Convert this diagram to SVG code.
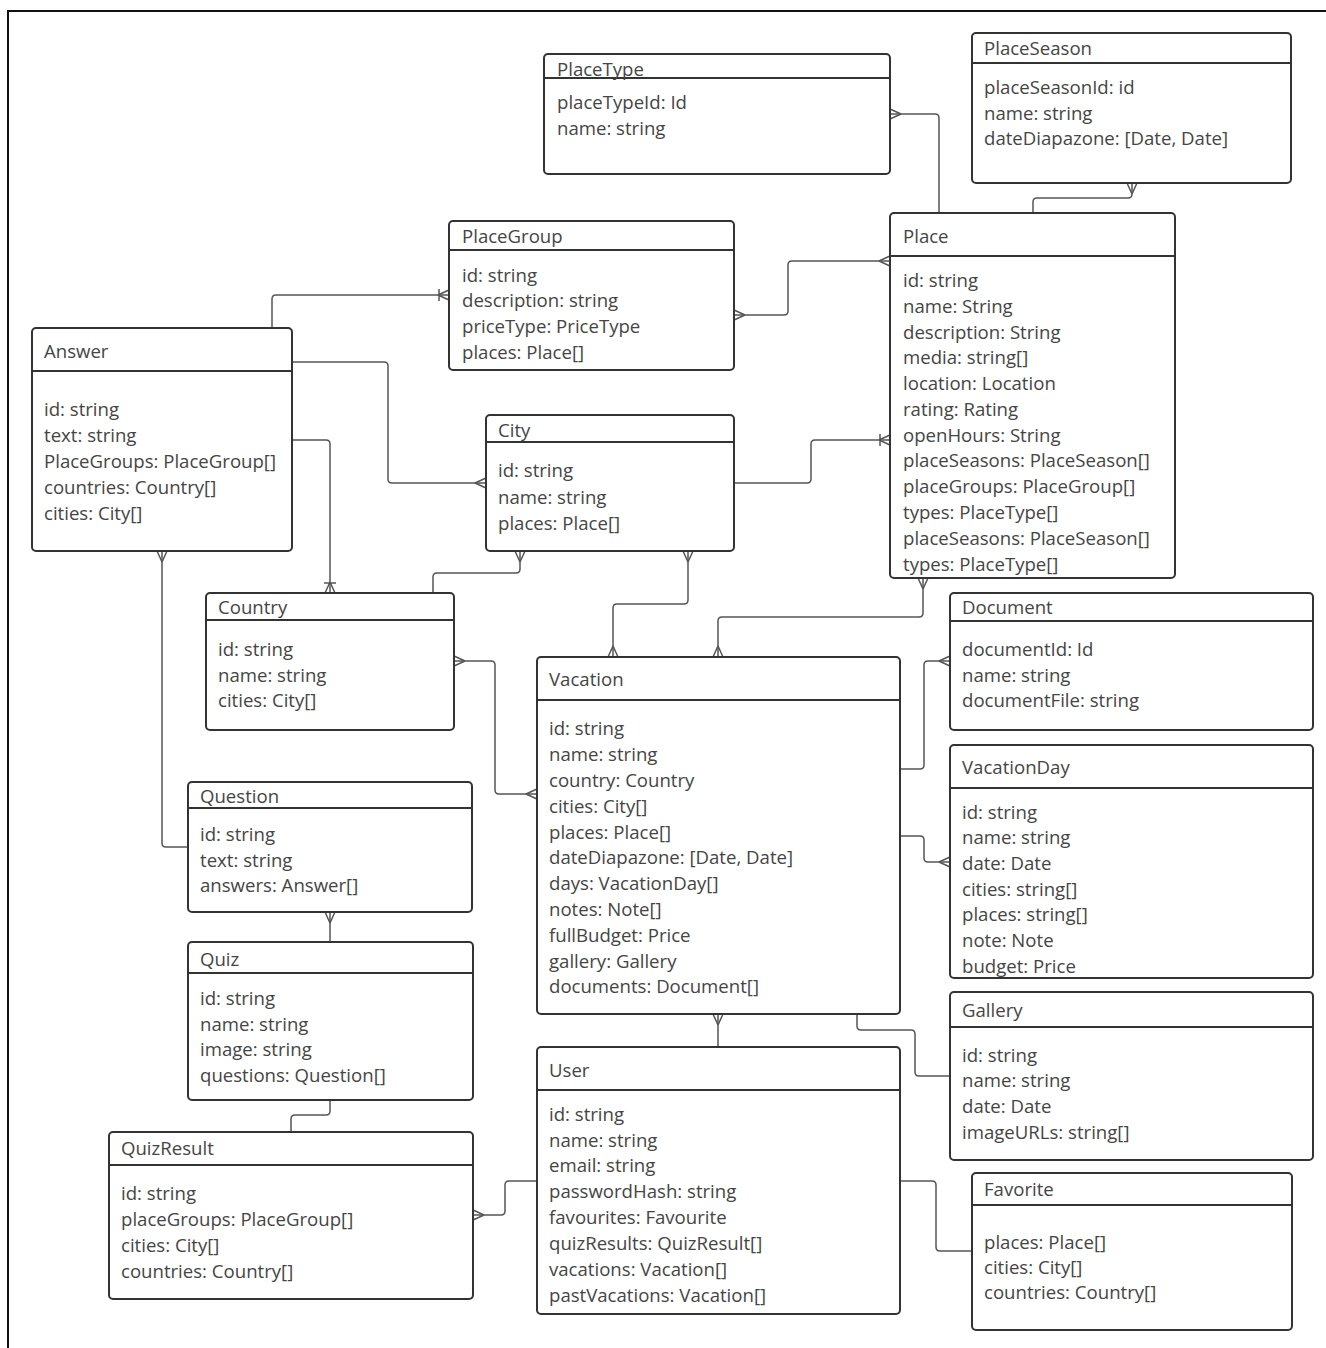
<svg xmlns="http://www.w3.org/2000/svg" width="1326" height="1348" viewBox="0 0 1326 1348">
<style>
.box{fill:#fff;stroke:#333;stroke-width:2}
.hd{stroke:#333;stroke-width:2}
text{font-family:"Open Sans","Noto Sans","Liberation Sans",sans-serif;font-size:18.6px;fill:#454545}
.c{fill:none;stroke:#555;stroke-width:1.5}
.mk{fill:none;stroke:#555;stroke-width:1.5}
</style>
<defs>
<marker id="crow" markerUnits="userSpaceOnUse" markerWidth="14" markerHeight="14" refX="0" refY="0" orient="auto-start-reverse" overflow="visible">
<path class="mk" d="M-11,0 L0,-5 M-11,0 L0,5"/>
</marker>
<marker id="onemany" markerUnits="userSpaceOnUse" markerWidth="14" markerHeight="14" refX="0" refY="0" orient="auto-start-reverse" overflow="visible">
<path class="mk" d="M-11,0 L0,-5 M-11,0 L0,5 M-10,-6 L-10,6"/>
</marker>
</defs>
<rect width="1326" height="1348" fill="#fff"/>
<path d="M8,1348 V11 H1326" fill="none" stroke="#111" stroke-width="2"/>

<g id="connectors">
<path class="c" d="M272,328 V299 Q272,295 276,295 H449" marker-end="url(#onemany)"/>
<path class="c" d="M734,315 H784 Q788,315 788,311 V265 Q788,261 792,261 H890" marker-start="url(#crow)" marker-end="url(#crow)"/>
<path class="c" d="M890,114 H935 Q939,114 939,118 V213" marker-start="url(#crow)"/>
<path class="c" d="M1132,183 V194 Q1132,198 1128,198 H1037 Q1033,198 1033,202 V213" marker-start="url(#crow)"/>
<path class="c" d="M292,362 H384 Q388,362 388,366 V479 Q388,483 392,483 H486" marker-end="url(#crow)"/>
<path class="c" d="M292,440 H326 Q330,440 330,444 V593" marker-end="url(#onemany)"/>
<path class="c" d="M162,551 V843 Q162,847 166,847 H188" marker-start="url(#crow)"/>
<path class="c" d="M433,593 V577 Q433,573 437,573 H516 Q520,573 520,569 V551" marker-end="url(#crow)"/>
<path class="c" d="M734,483 H807 Q811,483 811,479 V444 Q811,440 815,440 H890" marker-end="url(#onemany)"/>
<path class="c" d="M688,551 V600 Q688,604 684,604 H617 Q613,604 613,608 V657" marker-start="url(#crow)" marker-end="url(#crow)"/>
<path class="c" d="M923,578 V613 Q923,617 919,617 H722 Q718,617 718,621 V657" marker-start="url(#crow)" marker-end="url(#crow)"/>
<path class="c" d="M454,661 H491 Q495,661 495,665 V790 Q495,794 499,794 H537" marker-start="url(#crow)" marker-end="url(#crow)"/>
<path class="c" d="M900,769 H920 Q924,769 924,765 V665 Q924,661 928,661 H950" marker-end="url(#crow)"/>
<path class="c" d="M900,836 H920 Q924,836 924,840 V858 Q924,862 928,862 H950" marker-end="url(#crow)"/>
<path class="c" d="M857,1014 V1026 Q857,1030 861,1030 H911 Q915,1030 915,1034 V1072 Q915,1076 919,1076 H950"/>
<path class="c" d="M718,1014 V1047" marker-start="url(#crow)"/>
<path class="c" d="M900,1181 H932 Q936,1181 936,1185 V1247 Q936,1251 940,1251 H972"/>
<path class="c" d="M537,1181 H509 Q505,1181 505,1185 V1211 Q505,1215 501,1215 H473" marker-end="url(#crow)"/>
<path class="c" d="M330,1100 V1111 Q330,1115 326,1115 H295 Q291,1115 291,1119 V1132"/>
<path class="c" d="M330,912 V942" marker-start="url(#crow)"/>
</g>

<g id="PlaceType">
<rect class="box" x="544" y="54" width="346" height="120" rx="4"/>
<line class="hd" x1="544" y1="78" x2="890" y2="78"/>
<text x="557" y="76">PlaceType</text>
<text x="557" y="109">placeTypeId: Id</text>
<text x="557" y="135">name: string</text>
</g>

<g id="PlaceSeason">
<rect class="box" x="972" y="33" width="319" height="150" rx="4"/>
<line class="hd" x1="972" y1="63" x2="1291" y2="63"/>
<text x="984" y="55">PlaceSeason</text>
<text x="984" y="94">placeSeasonId: id</text>
<text x="984" y="120">name: string</text>
<text x="984" y="145">dateDiapazone: [Date, Date]</text>
</g>

<g id="Place">
<rect class="box" x="890" y="213" width="285" height="365" rx="4"/>
<line class="hd" x1="890" y1="256" x2="1175" y2="256"/>
<text x="903" y="243">Place</text>
<text x="903" y="287">id: string</text>
<text x="903" y="313">name: String</text>
<text x="903" y="339">description: String</text>
<text x="903" y="364">media: string[]</text>
<text x="903" y="390">location: Location</text>
<text x="903" y="416">rating: Rating</text>
<text x="903" y="442">openHours: String</text>
<text x="903" y="467">placeSeasons: PlaceSeason[]</text>
<text x="903" y="493">placeGroups: PlaceGroup[]</text>
<text x="903" y="519">types: PlaceType[]</text>
<text x="903" y="545">placeSeasons: PlaceSeason[]</text>
<text x="903" y="571">types: PlaceType[]</text>
</g>

<g id="PlaceGroup">
<rect class="box" x="449" y="221" width="285" height="149" rx="4"/>
<line class="hd" x1="449" y1="250" x2="734" y2="250"/>
<text x="462" y="243">PlaceGroup</text>
<text x="462" y="282">id: string</text>
<text x="462" y="307">description: string</text>
<text x="462" y="333">priceType: PriceType</text>
<text x="462" y="359">places: Place[]</text>
</g>

<g id="Answer">
<rect class="box" x="32" y="328" width="260" height="223" rx="4"/>
<line class="hd" x1="32" y1="371" x2="292" y2="371"/>
<text x="44" y="358">Answer</text>
<text x="44" y="416">id: string</text>
<text x="44" y="442">text: string</text>
<text x="44" y="468">PlaceGroups: PlaceGroup[]</text>
<text x="44" y="494">countries: Country[]</text>
<text x="44" y="520">cities: City[]</text>
</g>

<g id="City">
<rect class="box" x="486" y="415" width="248" height="136" rx="4"/>
<line class="hd" x1="486" y1="442" x2="734" y2="442"/>
<text x="498" y="437">City</text>
<text x="498" y="477">id: string</text>
<text x="498" y="504">name: string</text>
<text x="498" y="530">places: Place[]</text>
</g>

<g id="Country">
<rect class="box" x="206" y="593" width="248" height="137" rx="4"/>
<line class="hd" x1="206" y1="620" x2="454" y2="620"/>
<text x="218" y="614">Country</text>
<text x="218" y="656">id: string</text>
<text x="218" y="682">name: string</text>
<text x="218" y="707">cities: City[]</text>
</g>

<g id="Vacation">
<rect class="box" x="537" y="657" width="363" height="357" rx="4"/>
<line class="hd" x1="537" y1="700" x2="900" y2="700"/>
<text x="549" y="686">Vacation</text>
<text x="549" y="735">id: string</text>
<text x="549" y="761">name: string</text>
<text x="549" y="787">country: Country</text>
<text x="549" y="813">cities: City[]</text>
<text x="549" y="839">places: Place[]</text>
<text x="549" y="864">dateDiapazone: [Date, Date]</text>
<text x="549" y="890">days: VacationDay[]</text>
<text x="549" y="916">notes: Note[]</text>
<text x="549" y="942">fullBudget: Price</text>
<text x="549" y="968">gallery: Gallery</text>
<text x="549" y="993">documents: Document[]</text>
</g>

<g id="Document">
<rect class="box" x="950" y="593" width="363" height="137" rx="4"/>
<line class="hd" x1="950" y1="621" x2="1313" y2="621"/>
<text x="962" y="614">Document</text>
<text x="962" y="656">documentId: Id</text>
<text x="962" y="682">name: string</text>
<text x="962" y="707">documentFile: string</text>
</g>

<g id="VacationDay">
<rect class="box" x="950" y="745" width="363" height="233" rx="4"/>
<line class="hd" x1="950" y1="788" x2="1313" y2="788"/>
<text x="962" y="774">VacationDay</text>
<text x="962" y="819">id: string</text>
<text x="962" y="844">name: string</text>
<text x="962" y="870">date: Date</text>
<text x="962" y="896">cities: string[]</text>
<text x="962" y="921">places: string[]</text>
<text x="962" y="947">note: Note</text>
<text x="962" y="973">budget: Price</text>
</g>

<g id="Gallery">
<rect class="box" x="950" y="992" width="363" height="168" rx="4"/>
<line class="hd" x1="950" y1="1027" x2="1313" y2="1027"/>
<text x="962" y="1017">Gallery</text>
<text x="962" y="1062">id: string</text>
<text x="962" y="1087">name: string</text>
<text x="962" y="1113">date: Date</text>
<text x="962" y="1139">imageURLs: string[]</text>
</g>

<g id="Favorite">
<rect class="box" x="972" y="1173" width="320" height="157" rx="4"/>
<line class="hd" x1="972" y1="1205" x2="1292" y2="1205"/>
<text x="984" y="1196">Favorite</text>
<text x="984" y="1249">places: Place[]</text>
<text x="984" y="1274">cities: City[]</text>
<text x="984" y="1299">countries: Country[]</text>
</g>

<g id="User">
<rect class="box" x="537" y="1047" width="363" height="267" rx="4"/>
<line class="hd" x1="537" y1="1090" x2="900" y2="1090"/>
<text x="549" y="1077">User</text>
<text x="549" y="1121">id: string</text>
<text x="549" y="1147">name: string</text>
<text x="549" y="1172">email: string</text>
<text x="549" y="1198">passwordHash: string</text>
<text x="549" y="1224">favourites: Favourite</text>
<text x="549" y="1250">quizResults: QuizResult[]</text>
<text x="549" y="1276">vacations: Vacation[]</text>
<text x="549" y="1302">pastVacations: Vacation[]</text>
</g>

<g id="Question">
<rect class="box" x="188" y="782" width="284" height="130" rx="4"/>
<line class="hd" x1="188" y1="808" x2="472" y2="808"/>
<text x="200" y="803">Question</text>
<text x="200" y="841">id: string</text>
<text x="200" y="867">text: string</text>
<text x="200" y="892">answers: Answer[]</text>
</g>

<g id="Quiz">
<rect class="box" x="188" y="942" width="285" height="158" rx="4"/>
<line class="hd" x1="188" y1="973" x2="473" y2="973"/>
<text x="200" y="966">Quiz</text>
<text x="200" y="1005">id: string</text>
<text x="200" y="1031">name: string</text>
<text x="200" y="1056">image: string</text>
<text x="200" y="1082">questions: Question[]</text>
</g>

<g id="QuizResult">
<rect class="box" x="109" y="1132" width="364" height="167" rx="4"/>
<line class="hd" x1="109" y1="1165" x2="473" y2="1165"/>
<text x="121" y="1155">QuizResult</text>
<text x="121" y="1200">id: string</text>
<text x="121" y="1226">placeGroups: PlaceGroup[]</text>
<text x="121" y="1252">cities: City[]</text>
<text x="121" y="1278">countries: Country[]</text>
</g>
</svg>
